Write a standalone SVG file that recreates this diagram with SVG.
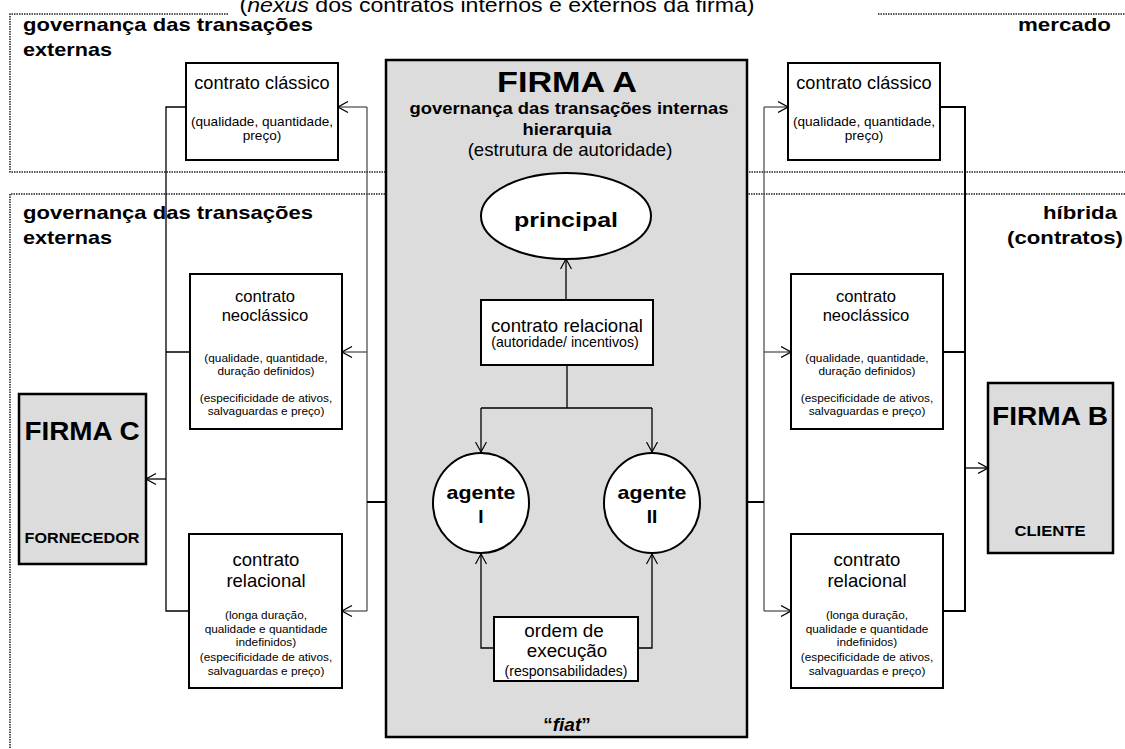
<svg xmlns="http://www.w3.org/2000/svg" width="1125" height="749" viewBox="0 0 1125 749">
  <defs>
    <marker id="chev" viewBox="0 0 11 12" refX="10.5" refY="6" markerWidth="11" markerHeight="12" markerUnits="userSpaceOnUse" orient="auto">
      <path d="M0.5,0.5 L10.5,6 L0.5,11.5" fill="none" stroke="#000" stroke-width="1.2"/>
    </marker>
    <style>
      text { font-family: "Liberation Sans", Arial, sans-serif; fill: #000; }
      .b { font-weight: bold; }
      .c { text-anchor: middle; }
      .e { text-anchor: end; }
      .box { fill: #fff; stroke: #000; stroke-width: 2; }
      .firm { fill: #dcdcdc; stroke: #000; stroke-width: 2.5; }
      .zone { fill: none; stroke: #222; stroke-width: 1.5; stroke-dasharray: 1.5 1; }
      .ln { fill: none; stroke: #000; stroke-width: 1.3; }
      .lg { fill: none; stroke: #444; stroke-width: 1.2; }
      .lt { fill: none; stroke: #000; stroke-width: 2; }
      .arr { marker-end: url(#chev); }
      .s { font-size: 11.8px; }
    </style>
  </defs>

  <rect width="1125" height="749" fill="#fff"/>

  <!-- title -->
  <text x="497" y="12" class="c" font-size="21" textLength="515" lengthAdjust="spacingAndGlyphs">(<tspan font-style="italic">nexus</tspan> dos contratos internos e externos da firma)</text>

  <!-- governance zones -->
  <g id="zones">
    <path class="zone" d="M228,14 H10 V172 H1125"/>
    <path class="zone" d="M878,14 H1125"/>
    <path class="zone" d="M1125,194 H10 V749"/>
    <text x="23" y="31" class="b" font-size="19" textLength="290" lengthAdjust="spacingAndGlyphs">governança das transações</text>
    <text x="23" y="56" class="b" font-size="19" textLength="89" lengthAdjust="spacingAndGlyphs">externas</text>
    <text x="1111" y="31" class="b e" font-size="19" textLength="93" lengthAdjust="spacingAndGlyphs">mercado</text>
    <text x="23" y="219" class="b" font-size="19" textLength="290" lengthAdjust="spacingAndGlyphs">governança das transações</text>
    <text x="23" y="244" class="b" font-size="19" textLength="89" lengthAdjust="spacingAndGlyphs">externas</text>
    <text x="1117" y="219" class="b e" font-size="19" textLength="74" lengthAdjust="spacingAndGlyphs">híbrida</text>
    <text x="1123" y="244" class="b e" font-size="19" textLength="116" lengthAdjust="spacingAndGlyphs">(contratos)</text>
  </g>

  <!-- connectors -->
  <g id="connectors">
    <!-- supplier side -->
    <path class="ln" d="M186,107 H166 V611 H189 M166,352 H190"/>
    <path class="ln arr" d="M166,479 H146"/>
    <path class="lg" d="M367,107 V611"/>
    <path class="lg arr" d="M367,107 H338"/>
    <path class="lg arr" d="M367,352 H342"/>
    <path class="lg arr" d="M367,611 H342"/>
    <path class="lt" d="M367,502 H433"/>
    <!-- client side -->
    <path class="lg" d="M764,107 V611"/>
    <path class="lg arr" d="M764,107 H788"/>
    <path class="lg arr" d="M764,352 H791"/>
    <path class="lg arr" d="M764,611 H791"/>
    <path class="lt" d="M699,502 H764"/>
    <path class="lt" d="M940,107 H965 V611 H943 M943,352 H965"/>
    <path class="ln arr" d="M965,468 H988"/>
  </g>

  <!-- firm A (internal governance) -->
  <g id="firma-a">
    <rect class="firm" x="386" y="60" width="361" height="677"/>
    <text x="567" y="92" class="b c" font-size="30" textLength="140" lengthAdjust="spacingAndGlyphs">FIRMA A</text>
    <text x="569" y="114" class="b c" font-size="16" textLength="319" lengthAdjust="spacingAndGlyphs">governança das transações internas</text>
    <text x="567" y="135" class="b c" font-size="16" textLength="89" lengthAdjust="spacingAndGlyphs">hierarquia</text>
    <text x="570" y="156" class="c" font-size="18.6">(estrutura de autoridade)</text>
    <text x="567" y="731" class="b c" font-size="19">“<tspan font-style="italic">fiat</tspan>”</text>
  </g>

  <g id="internal-connectors">
    <path class="ln arr" d="M566,300 V259"/>
    <path class="ln" d="M567,365 V408 M481,408 H652"/>
    <path class="ln arr" d="M481,408 V452"/>
    <path class="ln arr" d="M652,408 V452"/>
    <path class="ln arr" d="M494,648 H481 V554"/>
    <path class="ln arr" d="M638,648 H652 V554"/>
  </g>

  <g id="principal">
    <ellipse cx="566" cy="216" rx="85" ry="43" fill="#fff" stroke="#000" stroke-width="2"/>
    <text x="566" y="227" class="b c" font-size="21" textLength="104" lengthAdjust="spacingAndGlyphs">principal</text>
  </g>

  <g id="contrato-relacional-interno">
    <rect class="box" x="481" y="300" width="172" height="65"/>
    <text x="567" y="332" class="c" font-size="18.6">contrato relacional</text>
    <text x="565" y="347" class="c" font-size="14.2">(autoridade/ incentivos)</text>
  </g>

  <g id="agente-1">
    <ellipse cx="481" cy="503" rx="48" ry="50" fill="#fff" stroke="#000" stroke-width="2"/>
    <text x="481" y="499" class="b c" font-size="19" textLength="69" lengthAdjust="spacingAndGlyphs">agente</text>
    <text x="481" y="523" class="b c" font-size="19">I</text>
  </g>

  <g id="agente-2">
    <ellipse cx="652" cy="503" rx="48" ry="50" fill="#fff" stroke="#000" stroke-width="2"/>
    <text x="652" y="499" class="b c" font-size="19" textLength="69" lengthAdjust="spacingAndGlyphs">agente</text>
    <text x="652" y="523" class="b c" font-size="19">II</text>
  </g>

  <g id="ordem-execucao">
    <rect class="box" x="494" y="617" width="144" height="64"/>
    <text x="564" y="637" class="c" font-size="18.8">ordem de</text>
    <text x="567" y="657" class="c" font-size="18.8">execução</text>
    <text x="566" y="676" class="c" font-size="14.1">(responsabilidades)</text>
  </g>

  <!-- market contracts -->
  <g id="classico-c">
    <rect class="box" x="186" y="63" width="152" height="97"/>
    <text x="262" y="89" class="c" font-size="18.2">contrato clássico</text>
    <text x="262" y="126" class="c" font-size="13.6">(qualidade, quantidade,</text>
    <text x="262" y="140" class="c" font-size="13.6">preço)</text>
  </g>

  <g id="classico-b">
    <rect class="box" x="788" y="63" width="152" height="97"/>
    <text x="864" y="89" class="c" font-size="18.2">contrato clássico</text>
    <text x="864" y="126" class="c" font-size="13.6">(qualidade, quantidade,</text>
    <text x="864" y="140" class="c" font-size="13.6">preço)</text>
  </g>

  <!-- hybrid contracts -->
  <g id="neoclassico-c">
    <rect class="box" x="190" y="274" width="152" height="155"/>
    <text x="265" y="302" class="c" font-size="16.6">contrato</text>
    <text x="265" y="321" class="c" font-size="16.6">neoclássico</text>
    <text x="266" y="362" class="c s">(qualidade, quantidade,</text>
    <text x="266" y="375" class="c s">duração definidos)</text>
    <text x="266" y="402" class="c s">(especificidade de ativos,</text>
    <text x="266" y="415" class="c s">salvaguardas e preço)</text>
  </g>

  <g id="neoclassico-b">
    <rect class="box" x="791" y="274" width="152" height="155"/>
    <text x="866" y="302" class="c" font-size="16.6">contrato</text>
    <text x="866" y="321" class="c" font-size="16.6">neoclássico</text>
    <text x="867" y="362" class="c s">(qualidade, quantidade,</text>
    <text x="867" y="375" class="c s">duração definidos)</text>
    <text x="867" y="402" class="c s">(especificidade de ativos,</text>
    <text x="867" y="415" class="c s">salvaguardas e preço)</text>
  </g>

  <g id="relacional-c">
    <rect class="box" x="189" y="534" width="153" height="154"/>
    <text x="266" y="566" class="c" font-size="18.5">contrato</text>
    <text x="266" y="587" class="c" font-size="18.5">relacional</text>
    <text x="266" y="619" class="c s">(longa duração,</text>
    <text x="266" y="633" class="c s">qualidade e quantidade</text>
    <text x="266" y="646" class="c s">indefinidos)</text>
    <text x="266" y="661" class="c s">(especificidade de ativos,</text>
    <text x="266" y="675" class="c s">salvaguardas e preço)</text>
  </g>

  <g id="relacional-b">
    <rect class="box" x="791" y="534" width="152" height="154"/>
    <text x="867" y="566" class="c" font-size="18.5">contrato</text>
    <text x="867" y="587" class="c" font-size="18.5">relacional</text>
    <text x="867" y="619" class="c s">(longa duração,</text>
    <text x="867" y="633" class="c s">qualidade e quantidade</text>
    <text x="867" y="646" class="c s">indefinidos)</text>
    <text x="867" y="661" class="c s">(especificidade de ativos,</text>
    <text x="867" y="675" class="c s">salvaguardas e preço)</text>
  </g>

  <!-- outside firms -->
  <g id="firma-c">
    <rect class="firm" x="19" y="394" width="127" height="170" stroke-width="2"/>
    <text x="82" y="440" class="b c" font-size="26" textLength="115" lengthAdjust="spacingAndGlyphs">FIRMA C</text>
    <text x="82" y="543" class="b c" font-size="14" textLength="115" lengthAdjust="spacingAndGlyphs">FORNECEDOR</text>
  </g>

  <g id="firma-b">
    <rect class="firm" x="988" y="383" width="125" height="170" stroke-width="2"/>
    <text x="1050" y="425" class="b c" font-size="26" textLength="116" lengthAdjust="spacingAndGlyphs">FIRMA B</text>
    <text x="1050" y="536" class="b c" font-size="14" textLength="71" lengthAdjust="spacingAndGlyphs">CLIENTE</text>
  </g>
</svg>
